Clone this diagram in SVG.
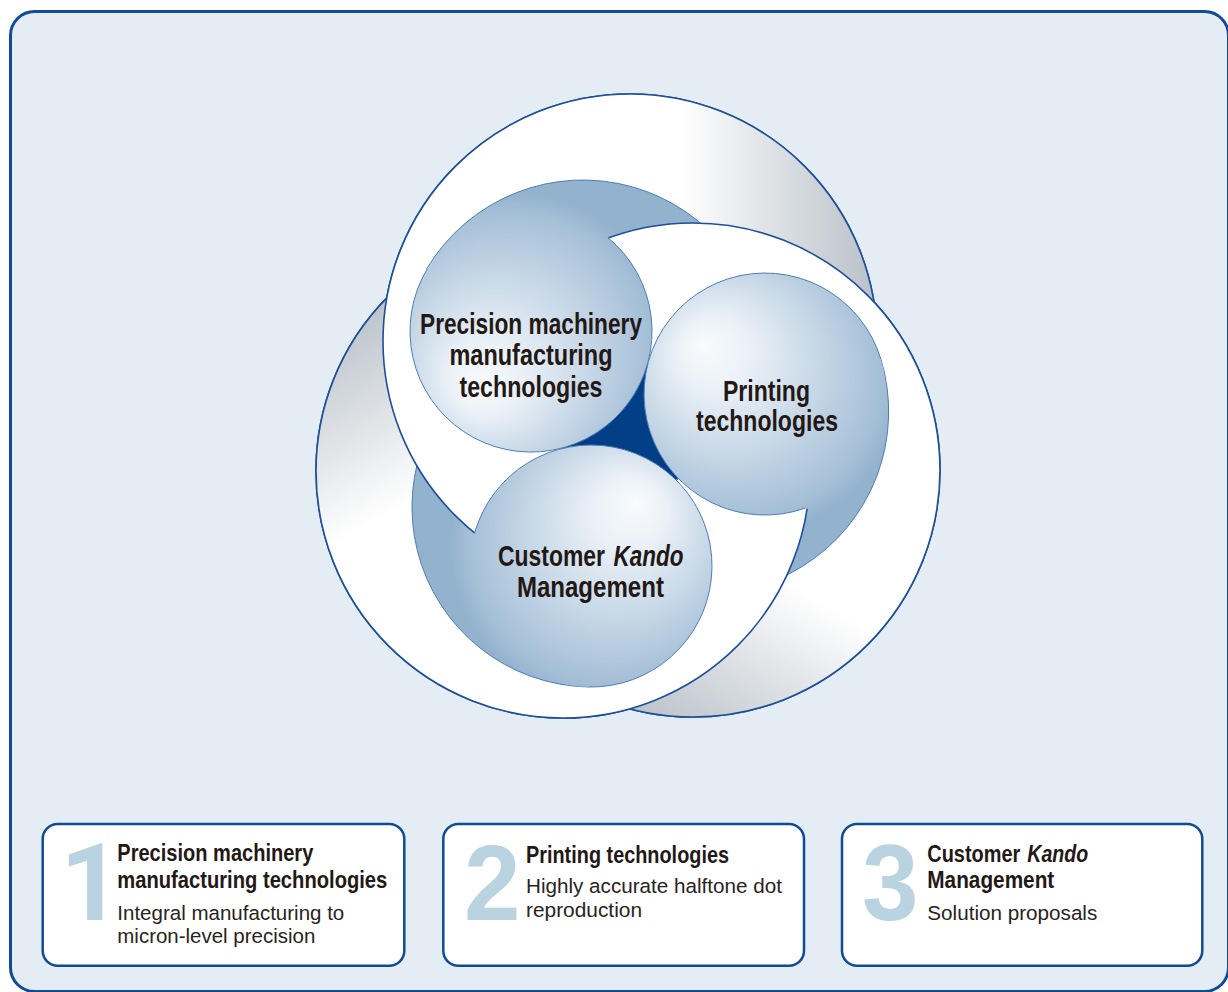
<svg xmlns="http://www.w3.org/2000/svg" width="1228" height="992" viewBox="0 0 1228 992">
<defs>
<style>
.bring{stroke:#1d4f9b;stroke-width:1.6}
.darc{fill:none;stroke:#4e7db6;stroke-width:1}
.larc{fill:none;stroke:#4e7db6;stroke-width:1}
.lbl{font-family:"Liberation Sans",Arial,sans-serif;font-weight:700;font-size:29px;fill:#231815}
.bt{font-family:"Liberation Sans",Arial,sans-serif;font-weight:700;font-size:24.5px;fill:#231815}
.bd{font-family:"Liberation Sans",Arial,sans-serif;font-size:20.5px;fill:#2a2320}
.num{font-family:"Liberation Sans",Arial,sans-serif;font-weight:700;font-size:108px;fill:#bad3e1}
.num1{font-family:Roboto,"Open Sans",sans-serif;font-weight:700;font-size:108px;fill:#bad3e1}
.box{fill:#ffffff;stroke:#0e4c98;stroke-width:2.5}
</style>
<linearGradient id="gB1" gradientUnits="userSpaceOnUse" x1="680" y1="341" x2="875" y2="341">
<stop offset="0" stop-color="#ffffff"/><stop offset="1" stop-color="#b9c1c8"/></linearGradient>
<linearGradient id="gB2" gradientUnits="userSpaceOnUse" x1="668" y1="513.3" x2="570.5" y2="682.2">
<stop offset="0" stop-color="#ffffff"/><stop offset="1" stop-color="#b9c1c8"/></linearGradient>
<linearGradient id="gB3" gradientUnits="userSpaceOnUse" x1="538" y1="427.7" x2="440.5" y2="258.8">
<stop offset="0" stop-color="#ffffff"/><stop offset="1" stop-color="#b9c1c8"/></linearGradient>
<radialGradient id="gL1" gradientUnits="userSpaceOnUse" cx="514.3" cy="348.3" r="155" fx="475.4" fy="388.5">
<stop offset="0" stop-color="#f9fbfd"/><stop offset="0.25" stop-color="#e9f0f6"/><stop offset="0.6" stop-color="#c5d6e6"/><stop offset="0.9" stop-color="#a5bfd7"/><stop offset="1" stop-color="#93b2ce"/></radialGradient>
<radialGradient id="gL2" gradientUnits="userSpaceOnUse" cx="746.1" cy="379.2" r="155" fx="702" fy="344.7">
<stop offset="0" stop-color="#f9fbfd"/><stop offset="0.25" stop-color="#e9f0f6"/><stop offset="0.6" stop-color="#c5d6e6"/><stop offset="0.9" stop-color="#a5bfd7"/><stop offset="1" stop-color="#93b2ce"/></radialGradient>
<radialGradient id="gL3" gradientUnits="userSpaceOnUse" cx="605.1" cy="546.6" r="155" fx="638" fy="501.3">
<stop offset="0" stop-color="#f9fbfd"/><stop offset="0.25" stop-color="#e9f0f6"/><stop offset="0.6" stop-color="#c5d6e6"/><stop offset="0.9" stop-color="#a5bfd7"/><stop offset="1" stop-color="#93b2ce"/></radialGradient>
<mask id="sA" maskUnits="userSpaceOnUse" x="0" y="0" width="1228" height="992"><polygon points="629,427 1359,754.3 698.7,1224 -28.3,882.9" fill="#fff"/></mask>
<mask id="sB" maskUnits="userSpaceOnUse" x="0" y="0" width="1228" height="992"><polygon points="629,427 -24.3,888.6 -101.8,101.6 544.7,-368.5" fill="#fff"/></mask>
<mask id="sC" maskUnits="userSpaceOnUse" x="0" y="0" width="1228" height="992"><polygon points="629,427 537.8,-367.8 1276.2,-43.2 1356.1,760.7" fill="#fff"/></mask>
<g id="u1">
<circle cx="630" cy="341" r="247" fill="url(#gB1)" class="bring"/>
<path d="M426.7 268.8 A182 182 0 0 1 765 364.5 L531 331 Z" fill="url(#gL1)"/>
<path class="darc" d="M426.7 268.8 A182 182 0 0 1 765 364.5"/>
</g>
<g id="u2">
<circle cx="693" cy="470" r="247" fill="url(#gB2)" class="bring"/>
<path d="M881 359.3 A182 182 0 0 1 581.8 544 L765 394 Z" fill="url(#gL2)"/>
<path class="darc" d="M881 359.3 A182 182 0 0 1 581.8 544"/>
</g>
<g id="u3">
<circle cx="563" cy="471" r="247" fill="url(#gB3)" class="bring"/>
<path d="M588.9 687 A180 180 0 0 1 504.7 349.6 L591 566 Z" fill="url(#gL3)"/>
<path class="darc" d="M588.9 687 A180 180 0 0 1 504.7 349.6"/>
</g>
</defs>

<rect x="0" y="0" width="1228" height="992" fill="#ffffff"/>
<rect id="panel" x="10.5" y="11.5" width="1218" height="980" rx="24" fill="#e4ecf4" stroke="#0e4c98" stroke-width="3"/>

<g id="swirl">
<g id="base"><use href="#u3"/><use href="#u1"/><use href="#u2"/></g>
<g mask="url(#sA)"><use href="#u1"/><use href="#u2"/><use href="#u3"/></g>
<g mask="url(#sB)"><use href="#u2"/><use href="#u3"/><use href="#u1"/></g>
<g mask="url(#sC)"><use href="#u3"/><use href="#u1"/><use href="#u2"/></g>
<polygon id="core" points="560.9,448.3 647.9,362.5 678,480" fill="#023f87"/>
</g>

<g id="node-precision">
<circle cx="531" cy="331" r="121" fill="url(#gL1)"/>
<path class="larc" d="M608.1 237.8 A121 121 0 1 1 427.1 269.1"/>
<text class="lbl" x="531" y="333.5" text-anchor="middle" textLength="222" lengthAdjust="spacingAndGlyphs">Precision machinery</text>
<text class="lbl" x="531" y="365" text-anchor="middle" textLength="163" lengthAdjust="spacingAndGlyphs">manufacturing</text>
<text class="lbl" x="531" y="396.5" text-anchor="middle" textLength="143" lengthAdjust="spacingAndGlyphs">technologies</text>
</g>

<g id="node-printing">
<circle cx="765" cy="394" r="121" fill="url(#gL2)"/>
<path class="larc" d="M805.4 508.1 A121 121 0 1 1 880.9 359.2"/>
<text class="lbl" x="766.5" y="401" text-anchor="middle" textLength="87" lengthAdjust="spacingAndGlyphs">Printing</text>
<text class="lbl" x="767" y="431.4" text-anchor="middle" textLength="142" lengthAdjust="spacingAndGlyphs">technologies</text>
</g>

<g id="node-kando">
<circle cx="591" cy="566" r="121" fill="url(#gL3)"/>
<path class="larc" d="M474.7 532.6 A121 121 0 1 1 588.9 687"/>
<text class="lbl" transform="translate(498 566) scale(0.79 1)">Customer</text>
<text class="lbl" font-style="italic" transform="translate(613.6 566) scale(0.776 1)">Kando</text>
<text class="lbl" x="590.4" y="597" text-anchor="middle" textLength="147" lengthAdjust="spacingAndGlyphs">Management</text>
</g>

<g id="card-1">
<rect class="box" x="42.7" y="824" width="361.6" height="141.7" rx="15"/>
<text class="num1" x="60" y="920">1</text>
<text class="bt" x="117.3" y="861" textLength="196" lengthAdjust="spacingAndGlyphs">Precision machinery</text>
<text class="bt" x="117.3" y="888.3" textLength="270" lengthAdjust="spacingAndGlyphs">manufacturing technologies</text>
<text class="bd" x="117.3" y="920" textLength="227" lengthAdjust="spacingAndGlyphs">Integral manufacturing to</text>
<text class="bd" x="117.3" y="943.3" textLength="198" lengthAdjust="spacingAndGlyphs">micron-level precision</text>
</g>

<g id="card-2">
<rect class="box" x="443.3" y="824" width="360.7" height="141.7" rx="15"/>
<text class="num" transform="translate(464.1 920) scale(0.94 1)">2</text>
<text class="bt" x="526" y="863.3" textLength="203" lengthAdjust="spacingAndGlyphs">Printing technologies</text>
<text class="bd" x="526" y="893.3" textLength="256" lengthAdjust="spacingAndGlyphs">Highly accurate halftone dot</text>
<text class="bd" x="526" y="916.7" textLength="116" lengthAdjust="spacingAndGlyphs">reproduction</text>
</g>

<g id="card-3">
<rect class="box" x="842" y="824" width="360.3" height="141.7" rx="15"/>
<text class="num" transform="translate(862 920) scale(0.94 1)">3</text>
<text class="bt" transform="translate(927.3 861.7) scale(0.813 1)">Customer</text>
<text class="bt" font-style="italic" transform="translate(1027.3 861.7) scale(0.8 1)">Kando</text>
<text class="bt" x="927.3" y="888.3" textLength="127" lengthAdjust="spacingAndGlyphs">Management</text>
<text class="bd" x="927.3" y="920" textLength="170" lengthAdjust="spacingAndGlyphs">Solution proposals</text>
</g>
</svg>
